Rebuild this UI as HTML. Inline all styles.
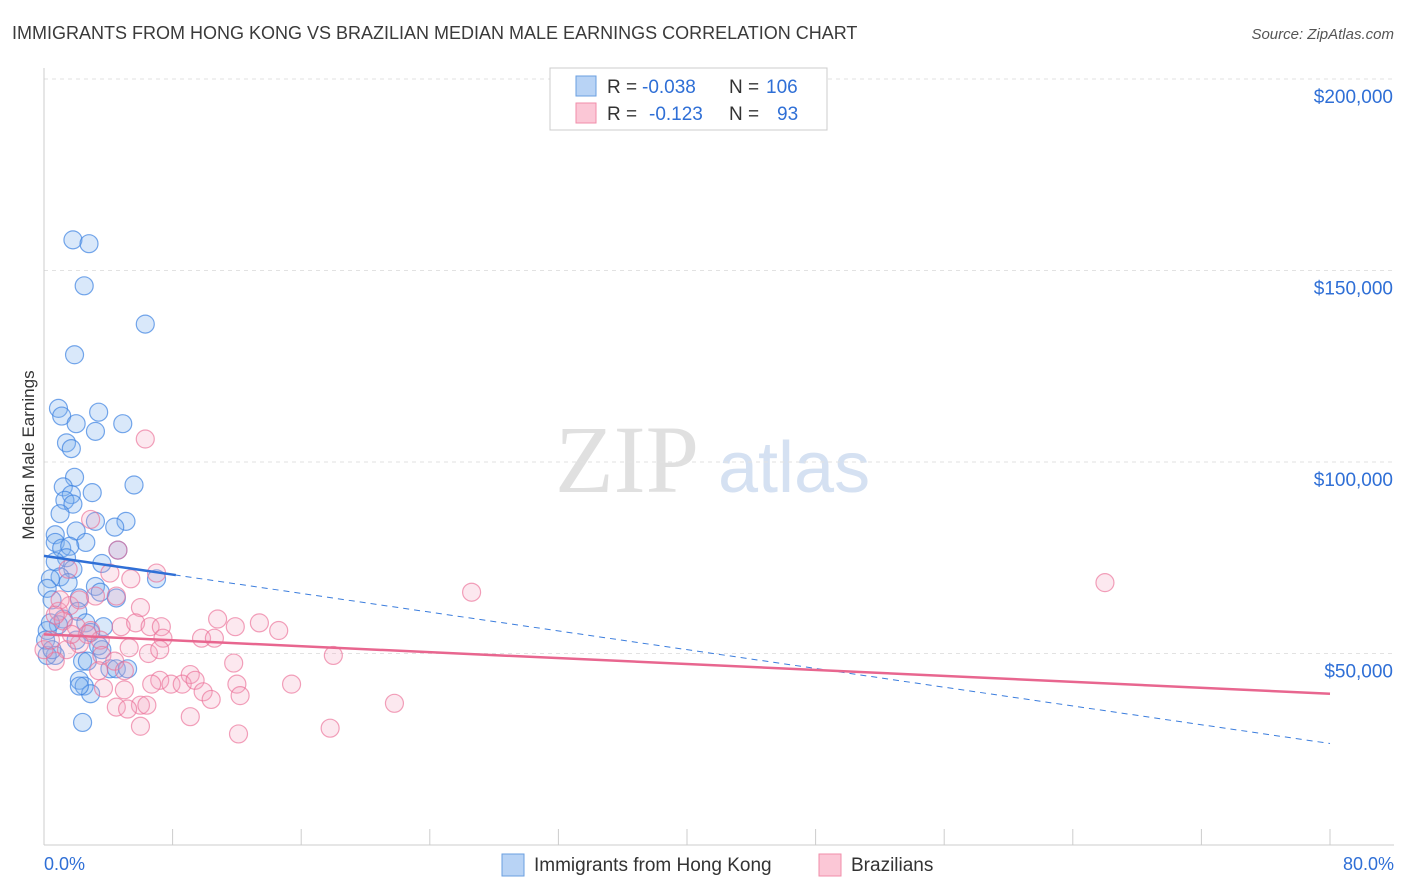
<!DOCTYPE html>
<html><head><meta charset="utf-8"><style>
body{margin:0;background:#fff;font-family:"Liberation Sans",sans-serif}
svg{display:block}
</style></head><body>
<svg id="c" width="1406" height="892">
<text x="12" y="39" font-size="18" fill="#3a3a3a">IMMIGRANTS FROM HONG KONG VS BRAZILIAN MEDIAN MALE EARNINGS CORRELATION CHART</text>
<text x="1394" y="39" font-size="15" fill="#555" text-anchor="end" font-style="italic">Source: ZipAtlas.com</text>
<text x="34" y="455" font-size="17" fill="#333" text-anchor="middle" transform="rotate(-90 34 455)">Median Male Earnings</text>
<text x="555" y="492" font-size="96" fill="#e0e0e0" font-family="Liberation Serif,serif">ZIP</text>
<text x="718" y="492" font-size="72" fill="#d5e1f2">atlas</text>
<g id="grid"></g><g id="marks"></g>
<g>
<rect x="550" y="68" width="277" height="62" fill="#fff" stroke="#ccc"/>
<rect x="576" y="76" width="20" height="20" fill="#b8d3f5" stroke="#6a9fe0"/>
<rect x="576" y="103" width="20" height="20" fill="#fbc7d6" stroke="#f08eaa"/>
<text x="607" y="93" font-size="19" fill="#333">R =</text>
<text x="642" y="93" font-size="19" fill="#2f6fd6">-0.038</text>
<text x="729" y="93" font-size="19" fill="#333">N =</text>
<text x="766" y="93" font-size="19" fill="#2f6fd6">106</text>
<text x="607" y="120" font-size="19" fill="#333">R =</text>
<text x="649" y="120" font-size="19" fill="#2f6fd6">-0.123</text>
<text x="729" y="120" font-size="19" fill="#333">N =</text>
<text x="777" y="120" font-size="19" fill="#2f6fd6">93</text>
</g>
<g>
<rect x="502" y="854" width="22" height="22" fill="#b8d3f5" stroke="#6a9fe0"/>
<text x="534" y="871" font-size="19" fill="#333">Immigrants from Hong Kong</text>
<rect x="819" y="854" width="22" height="22" fill="#fbc7d6" stroke="#f08eaa"/>
<text x="851" y="871" font-size="19" fill="#333">Brazilians</text>
</g>
<text x="44" y="870" font-size="18" fill="#2f6fd6">0.0%</text>
<text x="1394" y="870" font-size="18" fill="#2f6fd6" text-anchor="end">80.0%</text>
</svg>
<script>
const yTicks=[50000,100000,150000,200000];
const yTickLabels=["$50,000","$100,000","$150,000","$200,000"];
const blueX=[1.8,2.8,2.5,6.3,1.9,0.9,3.4,1.1,2.0,3.2,4.9,1.4,1.7,1.9,1.2,3.0,5.6,1.7,1.3,1.8,5.1,1.0,3.2,2.0,4.4,0.7,2.6,0.7,1.1,1.6,4.6,1.4,0.7,3.6,1.8,1.0,0.4,1.5,0.2,3.2,7.0,2.2,3.5,4.5,0.5,2.1,1.2,2.6,3.7,0.9,2.9,0.2,2.0,3.4,3.6,0.7,2.4,4.1,4.5,2.7,5.2,2.2,2.5,2.9,2.2,2.4,0.2,0.4,0.1,0.5];
const blueY=[158000,157000,146000,136000,128000,114000,113000,112000,110000,108000,110000,105000,103500,96000,93500,92000,94000,91500,90000,89000,84500,86500,84500,82000,83000,81000,79000,79000,77500,78000,77000,75000,74000,73500,72000,70000,69500,68500,67000,67500,69500,64500,66000,64500,64000,61000,59000,58000,57000,57500,55500,56000,53500,52000,51000,49500,48000,46000,46000,48000,46000,43000,41500,39500,41500,32000,49500,58000,53500,51000];
const pinkX=[6.3,2.9,4.6,7.0,26.6,66.0,4.1,0.9,1.6,2.2,3.2,4.5,6.0,1.2,2.0,2.9,3.5,2.7,4.8,5.7,6.6,7.3,7.4,10.8,11.9,13.4,14.6,9.8,10.6,5.3,6.5,7.2,2.2,1.4,0.7,3.6,4.4,5.0,11.8,18.0,9.1,7.2,6.7,7.9,8.6,9.4,9.9,10.4,12.0,12.2,15.4,5.0,3.7,6.0,4.5,5.2,6.4,9.1,6.0,12.1,17.8,21.8,0.0,0.4,1.0,1.7,0.7,1.5,5.4,3.4];
const pinkY=[106000,85000,77000,71000,66000,68500,71000,61000,62500,64000,65000,65000,62000,58500,57000,56000,53500,55000,57000,58000,57000,57000,54000,59000,57000,58000,56000,54000,54000,51500,50000,51000,52500,51000,48000,49500,48000,45500,47500,49500,44500,43000,42000,42000,42000,43000,40000,38000,42000,39000,42000,40500,41000,36500,36000,35500,36500,33500,31000,29000,30500,37000,51000,53500,64000,55000,60000,72000,69500,45500];
const X0=44,X1=1330,Y0=845;
const xs=v=>X0+v/80*(X1-X0);
const ys=v=>Y0-v/50000*191.5;
const NS="http://www.w3.org/2000/svg";
const grid=document.getElementById('grid'),marks=document.getElementById('marks');
function mk(tag,attrs,parent){const e=document.createElementNS(NS,tag);for(const k in attrs)e.setAttribute(k,attrs[k]);parent.appendChild(e);return e;}
yTicks.forEach((t,i)=>{
 const l=mk('line',{x1:X0,x2:1394,y1:ys(t),y2:ys(t),stroke:'#e2e2e2','stroke-dasharray':'4 4'},grid);
 
 
 const tx=mk('text',{x:1393,y:ys(t)+24,'font-size':19,fill:'#2f6fd6','text-anchor':'end'},grid);
 tx.textContent=yTickLabels[i];
 
 
});
const ax=mk('line',{x1:X0,x2:X0,y1:68,y2:Y0,stroke:'#ccc'},grid);


const bx=mk('line',{x1:X0,x2:1394,y1:Y0,y2:Y0,stroke:'#ccc'},grid);


for(let p=0;p<=80;p+=8){const t=mk('line',{x1:xs(p),x2:xs(p),y1:Y0,y2:Y0-16,stroke:'#ccc'},grid);
 
 }
blueX.forEach((v,i)=>{const c=mk('circle',{cx:xs(v),cy:ys(blueY[i]),r:9,fill:'rgba(130,178,238,0.3)',stroke:'rgba(60,130,225,0.7)','stroke-width':1.2},marks);
 
 });
pinkX.forEach((v,i)=>{const c=mk('circle',{cx:xs(v),cy:ys(pinkY[i]),r:9,fill:'rgba(245,165,190,0.25)',stroke:'rgba(235,110,150,0.65)','stroke-width':1.2},marks);
 
 });
const bt=[75500,26500],pt=[55000,39500];
let l=mk('line',{x1:xs(0),y1:ys(bt[0]),x2:xs(80),y2:ys(bt[1]),stroke:'#3b7ddd','stroke-width':1,'stroke-dasharray':'6 5'},marks);


const bEnd=8.2;
l=mk('line',{x1:xs(0),y1:ys(bt[0]),x2:xs(bEnd),y2:ys(bt[0]+(bt[1]-bt[0])*bEnd/80),stroke:'#2f6fd6','stroke-width':2.5},marks);


l=mk('line',{x1:xs(0),y1:ys(pt[0]),x2:xs(80),y2:ys(pt[1]),stroke:'#e8668f','stroke-width':2.5},marks);


</script>
</body></html>
